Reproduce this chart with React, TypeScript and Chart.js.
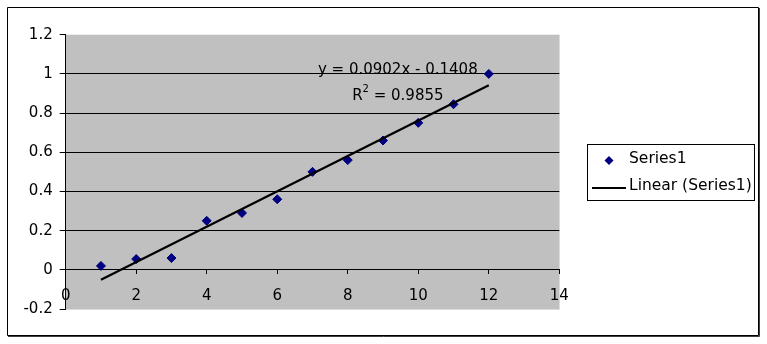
import React, { useEffect, useRef } from "react";
import { Chart, registerables } from "chart.js";

Chart.register(...registerables);

const xValues = [1, 2, 3, 4, 5, 6, 7, 8, 9, 10, 11, 12];
const series1 = [0.02, 0.055, 0.06, 0.25, 0.29, 0.36, 0.5, 0.56, 0.66, 0.75, 0.845, 1.0];
const trendSlope = 0.0902;
const trendIntercept = -0.1408;
const trendR2 = 0.9855;
const trendXRange = [1, 12];
const seriesName = "Series1";
const trendName = "Linear (Series1)";

const FONT = "'DejaVu Sans', sans-serif";

const framePlugin = {
  id: "frame",
  beforeDraw(chart: any) {
    const { ctx, chartArea: a } = chart;
    ctx.save();
    ctx.fillStyle = "#ffffff";
    ctx.fillRect(0, 0, chart.width, chart.height);
    ctx.fillStyle = "#c0c0c0";
    ctx.fillRect(a.left, a.top, a.right - a.left, a.bottom - a.top);
    ctx.strokeStyle = "#dcdcdc";
    ctx.lineWidth = 1;
    ctx.beginPath();
    ctx.moveTo(Math.round(a.right) + 0.5, a.top);
    ctx.lineTo(Math.round(a.right) + 0.5, a.bottom + 0.5);
    ctx.lineTo(a.left, a.bottom + 0.5);
    ctx.stroke();
    // outer frame
    ctx.strokeStyle = "#000000";
    ctx.beginPath();
    ctx.rect(7.5, 7.5, 751, 328);
    ctx.stroke();
    ctx.strokeStyle = "#404040";
    ctx.beginPath();
    ctx.moveTo(759.5, 8);
    ctx.lineTo(759.5, 336.5);
    ctx.lineTo(8, 336.5);
    ctx.stroke();
    ctx.restore();
  },
  afterDraw(chart: any) {
    const { ctx } = chart;
    const xs = chart.scales.x;
    const ys = chart.scales.y;
    ctx.save();
    // trendline label
    ctx.fillStyle = "#000";
    ctx.font = `15px ${FONT}`;
    ctx.textBaseline = "middle";
    ctx.textAlign = "center";
    const cx = xs.getPixelForValue(9.42);
    const eq = `y = ${trendSlope.toFixed(4)}x - ${Math.abs(trendIntercept).toFixed(4)}`;
    ctx.fillText(eq, cx, ys.getPixelForValue(1.017));
    const ry = ys.getPixelForValue(0.888);
    const r1 = "R";
    const r2 = ` = ${trendR2.toFixed(4)}`;
    const w1 = ctx.measureText(r1).width;
    ctx.font = `10px ${FONT}`;
    const ws = ctx.measureText("2").width;
    ctx.font = `15px ${FONT}`;
    const w2 = ctx.measureText(r2).width;
    let sx = cx - (w1 + ws + w2) / 2;
    ctx.textAlign = "left";
    ctx.fillText(r1, sx, ry);
    sx += w1;
    ctx.font = `10px ${FONT}`;
    ctx.fillText("2", sx, ry - 6);
    sx += ws;
    ctx.font = `15px ${FONT}`;
    ctx.fillText(r2, sx, ry);

    // legend
    const ds = chart.data.datasets;
    ctx.strokeStyle = "#000";
    ctx.lineWidth = 1;
    ctx.strokeRect(587.5, 144.5, 167, 56);
    const mx = 609, my = 160.5;
    ctx.fillStyle = ds[0].backgroundColor;
    ctx.beginPath();
    ctx.moveTo(mx - 4.5, my);
    ctx.lineTo(mx, my - 4.5);
    ctx.lineTo(mx + 4.5, my);
    ctx.lineTo(mx, my + 4.5);
    ctx.closePath();
    ctx.fill();
    ctx.fillStyle = "#000";
    ctx.font = `15.5px ${FONT}`;
    ctx.textAlign = "left";
    ctx.fillText(ds[0].label, 629, 159);
    ctx.strokeStyle = ds[1].borderColor;
    ctx.lineWidth = 2;
    ctx.beginPath();
    ctx.moveTo(592, 188);
    ctx.lineTo(626, 188);
    ctx.stroke();
    ctx.fillText(ds[1].label, 629, 186);
    ctx.restore();
  },
};

export default function App() {
  const ref = useRef<HTMLCanvasElement>(null);
  useEffect(() => {
    const trendData = trendXRange.map((x) => ({ x, y: trendSlope * x + trendIntercept }));
    const chart = new Chart(ref.current as HTMLCanvasElement, {
      type: "scatter",
      data: {
        datasets: [
          {
            label: seriesName,
            data: xValues.map((x, i) => ({ x, y: series1[i] })),
            backgroundColor: "#000080",
            borderColor: "#000080",
            pointStyle: "rectRot",
            pointRadius: 4.5,
            borderWidth: 1,
            order: 1,
          },
          {
            label: trendName,
            type: "line",
            data: trendData,
            borderColor: "#000000",
            backgroundColor: "#000000",
            borderWidth: 2.2,
            pointRadius: 0,
            showLine: true,
            fill: false,
            order: 0,
          },
        ],
      },
      options: {
        animation: false,
        responsive: false,
        maintainAspectRatio: false,
        layout: { padding: { left: 7.7, top: 34.7, right: 207.7, bottom: 35 } },
        plugins: { legend: { display: false }, tooltip: { enabled: false } },
        scales: {
          x: {
            type: "linear",
            position: { y: 0 },
            min: 0,
            max: 14,
            ticks: {
              stepSize: 2,
              color: "#000",
              font: { family: FONT, size: 15 },
              padding: 13,
              maxRotation: 0,
            },
            grid: { drawOnChartArea: false, tickLength: 4, color: "#000", tickColor: "#000" },
            border: { display: true, color: "#000", width: 1 },
          },
          y: {
            min: -0.2,
            max: 1.2,
            afterFit: (s: any) => {
              s.width = 58;
            },
            ticks: {
              stepSize: 0.2,
              color: "#000",
              font: { family: FONT, size: 15 },
              padding: 7,
              callback: (v: any) => String(Number(Number(v).toFixed(1))),
            },
            grid: {
              tickLength: 6,
              tickColor: "#000",
              color: (c: any) => {
                const v = c.tick ? Math.round(c.tick.value * 10) / 10 : 0;
                return v >= 1.2 || v <= -0.2 ? "rgba(0,0,0,0)" : "#000";
              },
            },
            border: { display: true, color: "#000", width: 1 },
          },
        },
      },
      plugins: [framePlugin],
    } as any);
    return () => chart.destroy();
  }, []);
  return (
    <div style={{ position: "fixed", left: 0, top: 0, width: 767, height: 344 }}>
      <canvas ref={ref} width={767} height={344} style={{ display: "block", width: 767, height: 344 }} />
    </div>
  );
}
